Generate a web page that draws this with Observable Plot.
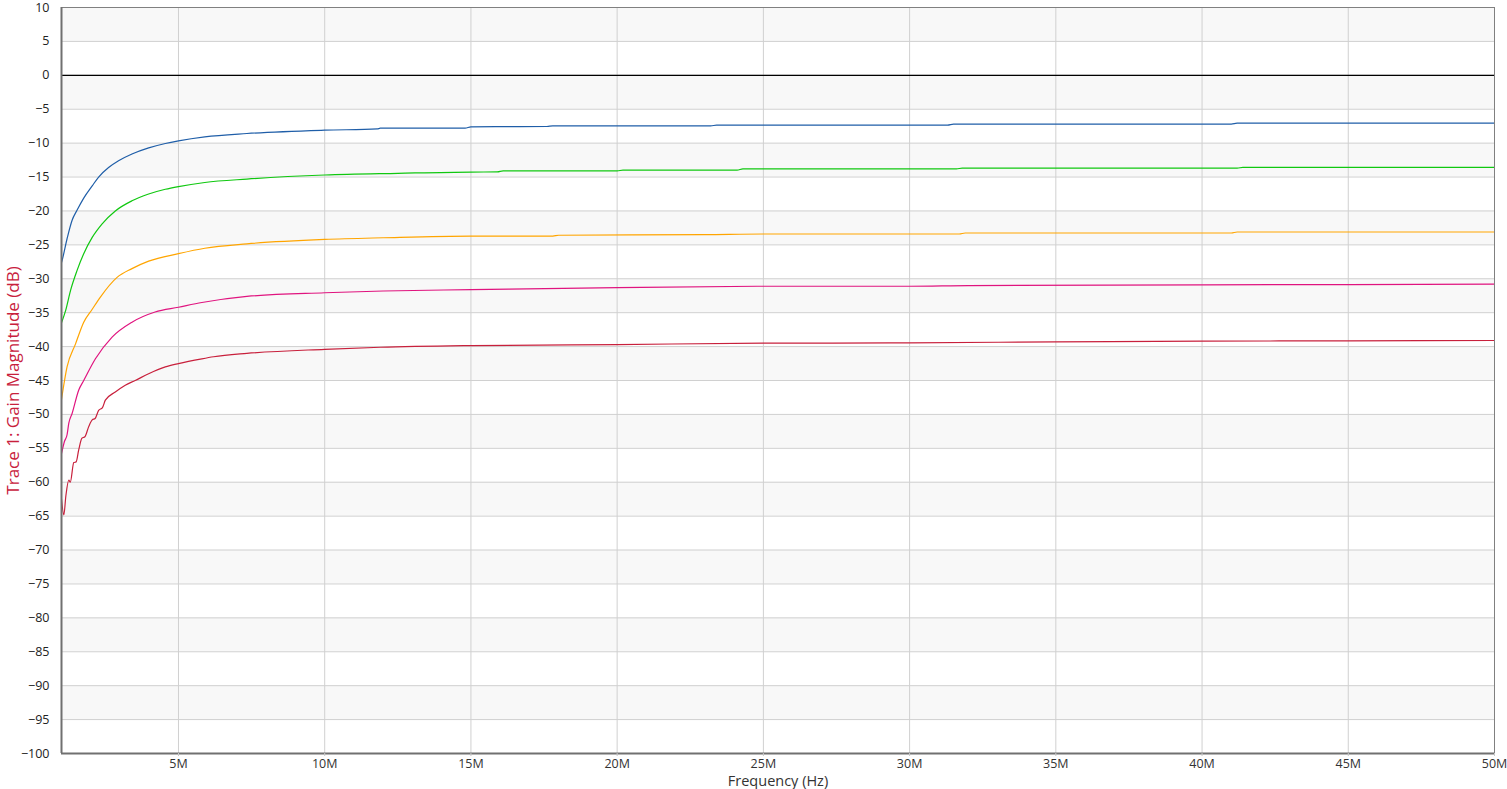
<!DOCTYPE html>
<html>
<head>
<meta charset="utf-8">
<script src="https://cdn.jsdelivr.net/npm/d3@7"></script>
<script src="https://cdn.jsdelivr.net/npm/@observablehq/plot@0.6"></script>
<style>
  html, body { margin: 0; padding: 0; background: #ffffff; }
  #chart { width: 1507px; height: 789px; }
</style>
</head>
<body>
<div id="chart"></div>
<script>
// Frequencies in MHz, gains in dB
const blueMHz = [1.0, 1.02, 1.19, 1.36, 1.53, 1.76, 2.05, 2.27, 2.61, 2.95, 3.41, 3.98, 4.55, 5.0, 5.9, 7.34, 10, 11.8, 11.9, 14.8, 15, 17.6, 17.8, 23.2, 23.4, 31.3, 31.5, 41.0, 41.2, 50];
const blueDb  = [-27.6, -27.3, -24.1, -21.4, -19.9, -18.1, -16.3, -15.0, -13.6, -12.6, -11.6, -10.7, -10.05, -9.66, -9.07, -8.58, -8.09, -7.9, -7.8, -7.8, -7.6, -7.55, -7.45, -7.45, -7.35, -7.35, -7.2, -7.2, -7.06, -7.06];

const greenMHz = [1.0, 1.14, 1.31, 1.53, 1.76, 2.05, 2.39, 2.84, 3.41, 3.98, 4.55, 5.0, 5.9, 7.34, 10, 12.5, 15, 15.9, 16.1, 20.0, 20.2, 24.1, 24.3, 31.6, 31.8, 41.2, 41.4, 50];
const greenDb  = [-36.5, -34.7, -31.7, -28.8, -26.3, -23.9, -21.9, -20.0, -18.5, -17.5, -16.8, -16.4, -15.8, -15.3, -14.7, -14.45, -14.26, -14.25, -14.1, -14.1, -13.97, -13.97, -13.8, -13.8, -13.68, -13.68, -13.58, -13.56];

const orangeMHz = [1.0, 1.19, 1.48, 1.76, 2.05, 2.33, 2.90, 3.41, 3.98, 5.0, 5.9, 7.34, 10, 12, 15, 17.8, 18.0, 23.0, 25, 31.7, 31.9, 41.0, 41.2, 50];
const orangeDb  = [-47.8, -43.0, -39.6, -36.4, -34.5, -32.7, -29.8, -28.5, -27.4, -26.3, -25.5, -24.85, -24.2, -23.95, -23.7, -23.7, -23.58, -23.5, -23.4, -23.4, -23.25, -23.25, -23.1, -23.1];

const pinkMHz = [1.0, 1.1, 1.19, 1.25, 1.36, 1.59, 1.76, 2.16, 2.73, 3.41, 4.2, 5.0, 5.8, 7.34, 10, 12, 15, 20, 25, 30, 32, 40, 45, 50];
const pinkDb  = [-55.8, -54.0, -53.0, -51.3, -49.9, -46.4, -45.0, -41.8, -38.6, -36.4, -34.9, -34.2, -33.5, -32.6, -32.06, -31.8, -31.6, -31.3, -31.1, -31.1, -31.0, -30.9, -30.85, -30.8];

const redMHz = [1.0, 1.08, 1.15, 1.25, 1.3, 1.42, 1.5, 1.59, 1.7, 1.8, 1.93, 2.05, 2.15, 2.27, 2.4, 2.5, 2.84, 3.18, 3.52, 3.98, 4.55, 5.0, 5.8, 6.2, 7.34, 10, 11.9, 15, 20, 25, 30, 35, 40, 45, 50];
const redDb  = [-62.5, -64.8, -62.0, -59.7, -60.0, -57.1, -57.0, -55.2, -53.5, -53.3, -51.8, -50.8, -50.6, -49.4, -49.0, -47.9, -46.7, -45.7, -45.0, -44.0, -43.0, -42.5, -41.8, -41.5, -41.0, -40.4, -40.1, -39.85, -39.7, -39.5, -39.45, -39.3, -39.2, -39.15, -39.1];

const seriesNames  = ["Trace A", "Trace B", "Trace C", "Trace D", "Trace E"];
const seriesColors = ["#1f5ea8", "#10c810", "#ffa500", "#e0147f", "#c8203c"];

const xTicksMHz = [5, 10, 15, 20, 25, 30, 35, 40, 45, 50];
const yTicks = d3.range(-100, 10.001, 5);
const bandLows = [5, -5, -15, -25, -35, -45, -55, -65, -75, -85, -95];

const xs = [blueMHz, greenMHz, orangeMHz, pinkMHz, redMHz];
const ys = [blueDb, greenDb, orangeDb, pinkDb, redDb];
const rows = [];
seriesNames.forEach((name, i) => {
  xs[i].forEach((f, j) => rows.push({series: name, f: f * 1e6, db: ys[i][j]}));
});

const font = "'Open Sans', 'Noto Sans', sans-serif";

const chart = Plot.plot({
  width: 1507,
  height: 789,
  marginLeft: 61,
  marginRight: 13,
  marginTop: 7,
  marginBottom: 36,
  style: {fontFamily: font, fontSize: "12.5px", color: "#222", background: "#ffffff"},
  x: {domain: [1e6, 50e6], ticks: xTicksMHz.map(d => d * 1e6), tickFormat: d => (d / 1e6) + "M", label: null},
  y: {domain: [-100, 10], ticks: yTicks, label: null},
  color: {domain: seriesNames, range: seriesColors},
  marks: [
    Plot.rect(bandLows, {y1: d => d, y2: d => d + 5, fill: "#f8f8f8"}),
    Plot.gridX(xTicksMHz.map(d => d * 1e6), {stroke: "#d0d0d0", strokeOpacity: 1, strokeWidth: 1}),
    Plot.gridY(yTicks, {stroke: "#d0d0d0", strokeOpacity: 1, strokeWidth: 1}),
    Plot.ruleY([0], {stroke: "#000000", strokeWidth: 1.2}),
    Plot.line(rows, {x: "f", y: "db", z: "series", stroke: "series", strokeWidth: 1.2, curve: "monotone-x", clip: true}),
    Plot.frame({stroke: "#808080", strokeWidth: 1}),
    Plot.ruleX([1e6], {stroke: "#707070", strokeWidth: 2}),
    Plot.ruleY([-100], {stroke: "#707070", strokeWidth: 2}),
    Plot.axisY(yTicks, {tickSize: 0, tickPadding: 12, fill: "#222", label: null}),
    Plot.axisX(xTicksMHz.map(d => d * 1e6), {tickSize: 3, tickPadding: 3, stroke: "#c8c8c8", fill: "#333", tickFormat: d => (d / 1e6) + "M", label: null}),
    Plot.text(["Frequency (Hz)"], {frameAnchor: "bottom", dy: 32, fill: "#333", fontSize: 14.5}),
    Plot.text(["Trace 1: Gain Magnitude (dB)"], {frameAnchor: "left", textAnchor: "middle", rotate: -90, dx: -48, fill: "#c8203c", fontSize: 17})
  ]
});
document.getElementById("chart").appendChild(chart);
</script>
</body>
</html>
